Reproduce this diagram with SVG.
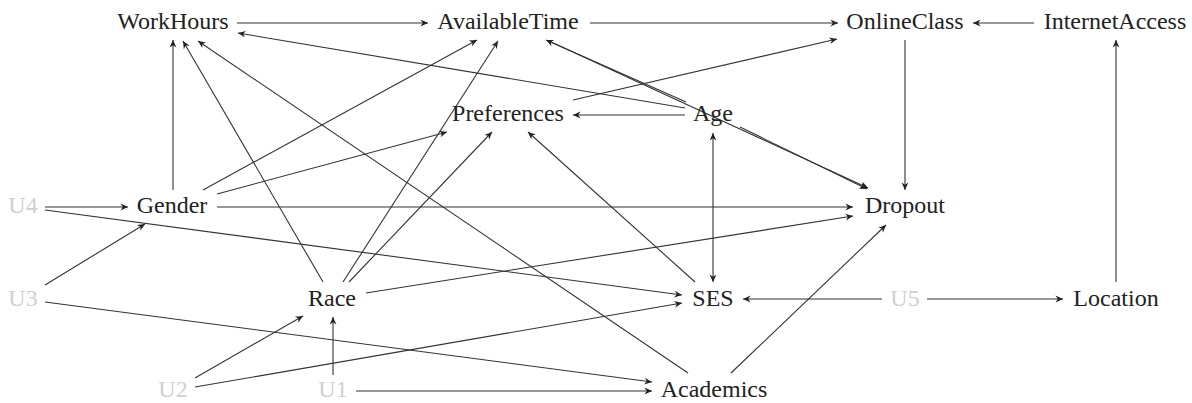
<svg xmlns="http://www.w3.org/2000/svg" width="1192" height="403" viewBox="0 0 1192 403">
<style>
  text { font-size: 24px; fill: #222; text-anchor: middle; }
  .u { fill: #cfcfcf; }
  .e { stroke: #333; stroke-width: 1.1; fill: none; marker-end: url(#arr); }
  .b { marker-start: url(#arr); }
</style>
<defs>
  <marker id="arr" markerUnits="userSpaceOnUse" viewBox="-8 -4 9 8" refX="0" refY="0" markerWidth="9" markerHeight="8" orient="auto-start-reverse">
    <path d="M0,0 L-7.5,-3.4 L-5.2,0 L-7.5,3.4 Z" fill="#222"/>
  </marker>
</defs>
<rect width="1192" height="403" fill="#fff"/>
<g id="connectors">
  <line class="e" x1="237" y1="23" x2="428" y2="23"/>
  <line class="e" x1="590" y1="23" x2="838" y2="23"/>
  <line class="e" x1="1034" y1="23" x2="973" y2="23"/>
  <line class="e" x1="905" y1="40" x2="905" y2="190"/>
  <line class="e" x1="1116" y1="282" x2="1116" y2="40"/>
  <line class="e" x1="927" y1="299" x2="1063" y2="299"/>
  <line class="e" x1="882" y1="299" x2="743" y2="299"/>
  <line class="e b" x1="713" y1="133" x2="713" y2="282"/>
  <line class="e" x1="685" y1="115" x2="573" y2="115"/>
  <line class="e" x1="685" y1="108" x2="238" y2="33"/>
  <line class="e" x1="549" y1="41" x2="868" y2="188"/>
  <line class="e" x1="686" y1="102" x2="546" y2="40"/>
  <line class="e" x1="740" y1="127" x2="867" y2="189"/>
  <line class="e" x1="573" y1="100" x2="837" y2="39"/>
  <line class="e" x1="173" y1="190" x2="173" y2="40"/>
  <line class="e" x1="323" y1="282" x2="183" y2="41"/>
  <line class="e" x1="688" y1="373" x2="198" y2="41"/>
  <line class="e" x1="203" y1="190" x2="477" y2="40"/>
  <line class="e" x1="343" y1="282" x2="498" y2="41"/>
  <line class="e" x1="217" y1="194" x2="447" y2="132"/>
  <line class="e" x1="349" y1="282" x2="492" y2="132"/>
  <line class="e" x1="695" y1="282" x2="528" y2="132"/>
  <line class="e" x1="217" y1="207" x2="853" y2="207"/>
  <line class="e" x1="366" y1="293" x2="853" y2="216"/>
  <line class="e" x1="731" y1="373" x2="886" y2="225"/>
  <line class="e" x1="45" y1="207" x2="128" y2="207"/>
  <line class="e" x1="45" y1="210" x2="682" y2="295"/>
  <line class="e" x1="45" y1="285" x2="145" y2="224"/>
  <line class="e" x1="45" y1="302" x2="652" y2="382"/>
  <line class="e" x1="195" y1="378" x2="303" y2="316"/>
  <line class="e" x1="195" y1="387" x2="682" y2="303"/>
  <line class="e" x1="333" y1="375" x2="333" y2="317"/>
  <line class="e" x1="356" y1="391" x2="652" y2="391"/>
</g>
<g id="nodes" font-family="Liberation Serif, DejaVu Serif, serif">
<g id="node-WorkHours"><text x="173" y="29">WorkHours</text></g>
<g id="node-AvailableTime"><text x="508" y="29">AvailableTime</text></g>
<g id="node-OnlineClass"><text x="905" y="29">OnlineClass</text></g>
<g id="node-InternetAccess"><text x="1115" y="29">InternetAccess</text></g>
<g id="node-Preferences"><text x="508" y="121">Preferences</text></g>
<g id="node-Age"><text x="713" y="121">Age</text></g>
<g id="node-U4"><text class="u" x="23" y="213">U4</text></g>
<g id="node-Gender"><text x="172" y="213">Gender</text></g>
<g id="node-Dropout"><text x="905" y="213">Dropout</text></g>
<g id="node-U3"><text class="u" x="23" y="306">U3</text></g>
<g id="node-Race"><text x="332" y="306">Race</text></g>
<g id="node-SES"><text x="713" y="306">SES</text></g>
<g id="node-U5"><text class="u" x="905" y="306">U5</text></g>
<g id="node-Location"><text x="1116" y="306">Location</text></g>
<g id="node-U2"><text class="u" x="173" y="397">U2</text></g>
<g id="node-U1"><text class="u" x="333" y="397">U1</text></g>
<g id="node-Academics"><text x="714" y="397">Academics</text></g>
</g>
</svg>
